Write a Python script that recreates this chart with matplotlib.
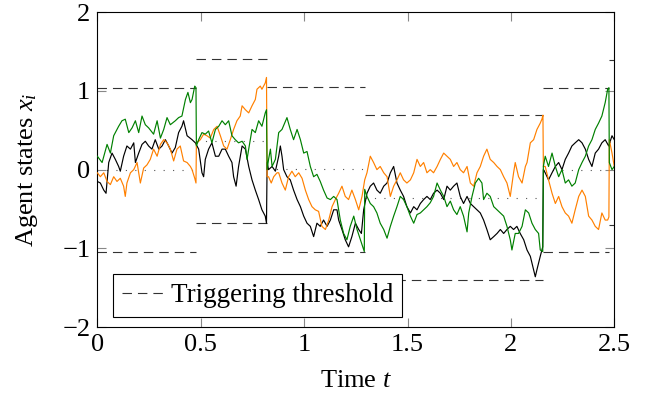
import matplotlib
matplotlib.use("Agg")
import matplotlib.pyplot as plt

plt.rcParams['font.family'] = ['Liberation Serif', 'DejaVu Serif']
plt.rcParams['mathtext.fontset'] = 'custom'
plt.rcParams['mathtext.rm'] = 'Liberation Serif'
plt.rcParams['mathtext.it'] = 'Liberation Serif:italic'

# ---- data ----
event_t = [0.0, 0.479, 0.821, 1.293, 2.157, 2.476, 2.5]
upper_thr = [1.04, 1.40, 1.05, 0.69, 1.04, 1.39]
lower_thr = [-1.04, -0.68, -1.04, -1.40, -1.04, -0.70]

black_t = [0.0, 0.0145, 0.031, 0.042, 0.055, 0.071, 0.087, 0.103, 0.111, 0.127,
           0.143, 0.160, 0.176, 0.184, 0.200, 0.216, 0.232, 0.248, 0.264, 0.280,
           0.297, 0.313, 0.329, 0.345, 0.361, 0.377, 0.393, 0.409, 0.417, 0.434,
           0.458, 0.474,
           0.490, 0.506, 0.514, 0.522, 0.538, 0.554, 0.571, 0.587, 0.603, 0.619,
           0.635, 0.651, 0.659, 0.671, 0.683, 0.700, 0.716, 0.732, 0.748, 0.764,
           0.780, 0.796, 0.812, 0.818,
           0.821, 0.828, 0.845, 0.861, 0.877, 0.885, 0.893, 0.901, 0.917, 0.933,
           0.949, 0.966, 0.982, 0.998, 1.014, 1.030, 1.046, 1.062, 1.078, 1.094,
           1.111, 1.127, 1.143, 1.159, 1.167, 1.183, 1.199, 1.215, 1.231, 1.248,
           1.264, 1.277, 1.288,
           1.304, 1.320, 1.336, 1.352, 1.368, 1.385, 1.401, 1.417, 1.433, 1.449,
           1.465, 1.481, 1.497, 1.514, 1.530, 1.546, 1.562, 1.578, 1.594, 1.610,
           1.626, 1.643, 1.659, 1.675, 1.691, 1.707, 1.723, 1.739, 1.755, 1.771,
           1.788, 1.804, 1.820, 1.836, 1.852, 1.868, 1.884, 1.900, 1.917, 1.933,
           1.949, 1.965, 1.981, 1.997, 2.013, 2.029, 2.045, 2.062, 2.078, 2.094,
           2.110, 2.118, 2.126, 2.142, 2.154,
           2.157, 2.166, 2.182, 2.199, 2.215, 2.231, 2.247, 2.263, 2.279, 2.295,
           2.311, 2.328, 2.344, 2.360, 2.376, 2.392, 2.408, 2.424, 2.440, 2.456,
           2.473, 2.489, 2.500]
black_y = [-0.15, -0.17, -0.26, -0.30, 0.09, 0.21, 0.13, 0.04, -0.02, 0.17,
           0.30, 0.26, 0.34, 0.09, 0.21, 0.32, 0.36, 0.30, 0.26, 0.38,
           0.26, 0.30, 0.38, 0.30, 0.21, 0.28, 0.47, 0.55, 0.62, 0.43,
           0.38, 0.34,
           0.26, -0.04, -0.09, 0.13, 0.26, 0.34, 0.17, 0.17, 0.26, 0.26,
           0.17, 0.09, -0.09, -0.21, 0.04, 0.30, 0.26, 0.04, -0.13, -0.26,
           -0.38, -0.51, -0.59, -0.68,
           0.09, 0.00, 0.04, -0.02, 0.17, 0.30, 0.17, 0.00, -0.09, -0.13,
           -0.26, -0.38, -0.47, -0.59, -0.68, -0.72, -0.85, -0.68, -0.72, -0.64,
           -0.72, -0.64, -0.51, -0.51, -0.64, -0.76, -0.89, -0.98, -0.85, -0.68,
           -0.76, -0.81, -0.51,
           -0.30, -0.21, -0.17, -0.26, -0.30, -0.21, -0.17, -0.04, 0.04, -0.17,
           -0.26, -0.34, -0.47, -0.55, -0.47, -0.51, -0.43, -0.38, -0.34, -0.38,
           -0.30, -0.26, -0.30, -0.38, -0.21, -0.26, -0.21, -0.17, -0.34, -0.43,
           -0.34, -0.43, -0.47, -0.51, -0.55, -0.64, -0.76, -0.89, -0.85, -0.81,
           -0.76, -0.81, -0.76, -0.72, -0.76, -0.72, -0.81, -0.89, -1.02, -1.10,
           -1.27, -1.36, -1.27, -1.10, -0.98,
           0.00, -0.04, -0.13, -0.04, 0.04, 0.09, 0.00, 0.13, 0.21, 0.30,
           0.34, 0.38, 0.34, 0.26, 0.13, 0.04, 0.21, 0.26, 0.34, 0.38,
           0.30, 0.43, 0.38]

orange_t = [0.0, 0.0145, 0.031, 0.047, 0.063, 0.079, 0.095, 0.111, 0.127, 0.135,
            0.143, 0.160, 0.176, 0.192, 0.208, 0.224, 0.240, 0.256, 0.272, 0.289,
            0.305, 0.321, 0.337, 0.353, 0.369, 0.385, 0.401, 0.417, 0.434, 0.450,
            0.458, 0.471, 0.477,
            0.479, 0.490, 0.498, 0.514, 0.530, 0.546, 0.563, 0.579, 0.595, 0.611,
            0.627, 0.643, 0.659, 0.675, 0.691, 0.700, 0.716, 0.732, 0.748, 0.764,
            0.772, 0.788, 0.796, 0.812, 0.818,
            0.821, 0.828, 0.841, 0.853, 0.869, 0.877, 0.893, 0.909, 0.925, 0.941,
            0.957, 0.974, 0.990, 1.006, 1.022, 1.038, 1.054, 1.070, 1.086, 1.103,
            1.119, 1.135, 1.151, 1.167, 1.183, 1.199, 1.215, 1.231, 1.248, 1.264,
            1.280,
            1.293, 1.304, 1.320, 1.336, 1.352, 1.368, 1.385, 1.401, 1.417, 1.433,
            1.449, 1.465, 1.481, 1.497, 1.514, 1.530, 1.546, 1.562, 1.578, 1.594,
            1.610, 1.626, 1.643, 1.659, 1.675, 1.691, 1.707, 1.723, 1.739, 1.755,
            1.771, 1.788, 1.804, 1.820, 1.836, 1.852, 1.868, 1.884, 1.900, 1.917,
            1.933, 1.949, 1.965, 1.981, 1.997, 2.013, 2.021, 2.037, 2.054, 2.070,
            2.078, 2.094, 2.110, 2.126, 2.142, 2.150, 2.155,
            2.157, 2.166, 2.182, 2.199, 2.215, 2.231, 2.247, 2.263, 2.279, 2.295,
            2.311, 2.328, 2.344, 2.360, 2.376, 2.392, 2.408, 2.424, 2.440, 2.456,
            2.468, 2.474,
            2.476, 2.489, 2.500]
orange_y = [-0.04, -0.09, -0.04, -0.15, -0.19, -0.09, -0.15, -0.11, -0.21, -0.34,
            -0.17, -0.04, 0.00, 0.09, -0.17, 0.02, 0.06, 0.13, 0.26, 0.17,
            0.32, 0.38, 0.34, 0.26, 0.11, 0.26, 0.30, 0.11, 0.09, 0.04,
            0.00, -0.11, -0.17,
            0.34, 0.36, 0.38, 0.45, 0.43, 0.40, 0.51, 0.55, 0.43, 0.30,
            0.26, 0.38, 0.51, 0.62, 0.68, 0.81, 0.76, 0.72, 0.81, 0.89,
            1.02, 1.06, 1.02, 1.10, 1.17,
            -0.09, -0.09, -0.17, -0.09, -0.04, -0.04, -0.17, -0.26, -0.09, -0.02,
            -0.09, -0.04, -0.11, -0.26, -0.38, -0.47, -0.51, -0.53, -0.72, -0.76,
            -0.64, -0.47, -0.38, -0.30, -0.21, -0.34, -0.38, -0.26, -0.38, -0.51,
            -0.34,
            -0.13, -0.04, 0.17, 0.09, 0.00, 0.04, -0.04, -0.09, -0.34, -0.21,
            -0.13, -0.04, -0.13, -0.17, -0.13, -0.04, 0.13, 0.04, 0.09, -0.04,
            0.00, -0.04, 0.04, 0.13, 0.21, 0.17, 0.13, 0.04, 0.09, 0.00,
            -0.04, 0.04, -0.17, -0.21, -0.04, 0.04, 0.17, 0.26, 0.13, 0.09,
            0.04, 0.00, -0.09, -0.17, -0.34, -0.04, 0.09, -0.09, -0.17, 0.04,
            0.09, 0.34, 0.38, 0.51, 0.59, 0.64, 0.69,
            0.04, 0.04, -0.13, -0.30, -0.43, -0.34, -0.47, -0.55, -0.59, -0.68,
            -0.51, -0.34, -0.26, -0.34, -0.59, -0.64, -0.72, -0.76, -0.55, -0.64,
            -0.64, -0.60,
            0.38, 0.21, 0.04]

green_t = [0.0, 0.023, 0.047, 0.063, 0.079, 0.103, 0.119, 0.135, 0.152, 0.168,
           0.184, 0.200, 0.216, 0.232, 0.248, 0.272, 0.289, 0.305, 0.321, 0.337,
           0.353, 0.377, 0.393, 0.409, 0.426, 0.438, 0.450, 0.458, 0.471, 0.477,
           0.479, 0.490, 0.506, 0.522, 0.538, 0.554, 0.571, 0.587, 0.603, 0.619,
           0.635, 0.651, 0.667, 0.683, 0.700, 0.716, 0.724, 0.732, 0.748, 0.764,
           0.780, 0.796, 0.812, 0.818,
           0.821, 0.828, 0.837, 0.845, 0.861, 0.877, 0.893, 0.917, 0.933, 0.949,
           0.966, 0.982, 0.998, 1.014, 1.030, 1.046, 1.062, 1.078, 1.094, 1.111,
           1.127, 1.143, 1.159, 1.175, 1.191, 1.207, 1.223, 1.240, 1.256, 1.272,
           1.283, 1.291,
           1.293, 1.304, 1.320, 1.336, 1.352, 1.368, 1.385, 1.401, 1.417, 1.433,
           1.449, 1.465, 1.481, 1.497, 1.514, 1.530, 1.546, 1.562, 1.578, 1.594,
           1.610, 1.626, 1.643, 1.659, 1.675, 1.691, 1.707, 1.723, 1.739, 1.755,
           1.771, 1.788, 1.796, 1.812, 1.828, 1.844, 1.860, 1.868, 1.884, 1.900,
           1.917, 1.933, 1.949, 1.965, 1.981, 1.997, 2.005, 2.021, 2.037, 2.054,
           2.070, 2.086, 2.102, 2.118, 2.134, 2.142, 2.154,
           2.157, 2.166, 2.182, 2.199, 2.215, 2.231, 2.247, 2.263, 2.279, 2.295,
           2.311, 2.328, 2.344, 2.360, 2.376, 2.392, 2.408, 2.424, 2.440, 2.456,
           2.468, 2.474,
           2.476, 2.489, 2.500]
green_y = [0.17, 0.09, 0.32, 0.21, 0.43, 0.55, 0.62, 0.64, 0.47, 0.53,
           0.62, 0.47, 0.68, 0.57, 0.53, 0.45, 0.62, 0.40, 0.51, 0.66,
           0.57, 0.62, 0.66, 0.68, 0.89, 0.98, 0.85, 0.89, 1.06, 1.04,
           0.30, 0.38, 0.47, 0.45, 0.49, 0.34, 0.51, 0.55, 0.62, 0.57,
           0.62, 0.43, 0.38, 0.34, 0.36, 0.30, 0.13, 0.26, 0.51, 0.47,
           0.62, 0.55, 0.72, 0.76,
           0.00, 0.13, 0.26, 0.04, 0.13, 0.47, 0.51, 0.66, 0.51, 0.38,
           0.51, 0.38, 0.21, 0.23, 0.04, -0.09, -0.06, -0.15, -0.26, -0.36,
           -0.38, -0.34, -0.38, -0.64, -0.81, -0.89, -0.72, -0.59, -0.76, -0.89,
           -0.98, -1.04,
           -0.25, -0.34, -0.43, -0.47, -0.55, -0.68, -0.76, -0.87, -0.72, -0.59,
           -0.47, -0.34, -0.38, -0.47, -0.59, -0.68, -0.57, -0.55, -0.51, -0.47,
           -0.42, -0.34, -0.17, -0.26, -0.34, -0.47, -0.40, -0.51, -0.57, -0.47,
           -0.59, -0.79, -0.55, -0.34, -0.17, -0.11, -0.17, -0.38, -0.30, -0.34,
           -0.47, -0.51, -0.55, -0.59, -0.72, -0.89, -1.02, -0.81, -0.81, -0.72,
           -0.51, -0.55, -0.68, -0.76, -0.81, -1.02, -1.04,
           0.04, 0.17, 0.04, 0.21, 0.04, -0.09, 0.00, -0.17, -0.13, -0.21,
           -0.17, 0.00, 0.09, 0.17, 0.30, 0.38, 0.51, 0.59, 0.68, 0.85,
           1.02, 1.04,
           0.09, 0.00, 0.04]

x_ticks = [0, 0.5, 1, 1.5, 2, 2.5]
x_ticklabels = ['0', '0.5', '1', '1.5', '2', '2.5']
y_ticks = [-2, -1, 0, 1, 2]
y_ticklabels = ['\u22122', '\u22121', '0', '1', '2']

FS = 19

fig = plt.figure(figsize=(6.49, 4.01), dpi=100)
ax = fig.add_axes([0.150, 0.184, 0.7965, 0.786])

# thresholds
for i in range(len(upper_thr)):
    t0, t1 = event_t[i], event_t[i + 1]
    lab = 'Triggering threshold' if i == 0 else None
    ax.plot([t0, t1], [upper_thr[i], upper_thr[i]], color='#333333', lw=0.8,
            dashes=(8.5, 5.4), label=lab, zorder=1)
    ax.plot([t0, t1], [lower_thr[i], lower_thr[i]], color='#333333', lw=0.8,
            dashes=(8.5, 5.4), zorder=1)
    mid = (upper_thr[i] + lower_thr[i]) / 2
    ax.plot([t0, t1], [mid, mid], color='#555555', lw=0.8,
            dashes=(1.0, 7.5), zorder=1)

ax.plot(black_t, black_y, color='black', lw=0.85, zorder=2)
ax.plot(orange_t, orange_y, color='#ff8000', lw=0.85, zorder=3)
ax.plot(green_t, green_y, color='#008000', lw=0.85, zorder=4)

ax.set_xlim(0, 2.5)
ax.set_ylim(-2, 2)
ax.set_xticks(x_ticks)
ax.set_xticklabels(x_ticklabels)
ax.set_yticks(y_ticks)
ax.set_yticklabels(y_ticklabels)
ax.tick_params(direction='in', top=True, right=True, length=6.5, width=0.8,
               color='#888888', labelsize=FS, pad=5)
for s in ax.spines.values():
    s.set_linewidth(0.8)

ax.set_xlabel('Time $t$', fontsize=FS, labelpad=10)
ax.set_ylabel('Agent states $x_i$', fontsize=FS, labelpad=16)

leg = ax.legend(loc='lower left', bbox_to_anchor=(0.031, 0.032), fontsize=19.5,
                frameon=True, fancybox=False, framealpha=1, edgecolor='black',
                handlelength=1.6, handletextpad=0.2, borderpad=0.33,
                borderaxespad=0)
leg.get_frame().set_linewidth(0.8)

fig.savefig('out.png', dpi=100)
